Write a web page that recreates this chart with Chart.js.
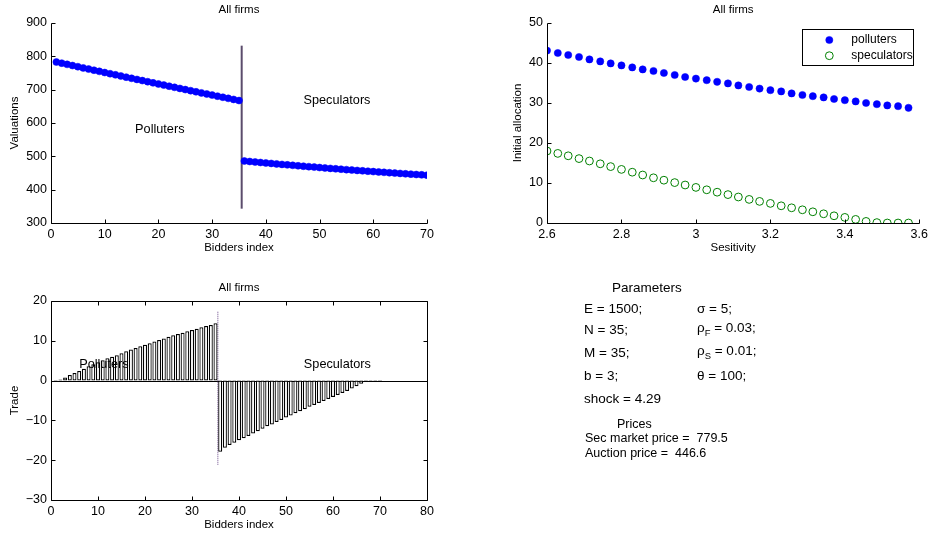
<!DOCTYPE html>
<html>
<head>
<meta charset="utf-8">
<script src="https://cdn.jsdelivr.net/npm/chart.js@4.4.0/dist/chart.umd.min.js"></script>
<style>
  body { margin: 0; background: #fff; font-family: "Liberation Sans", Arial, sans-serif; }
  .box { position: absolute; }
  #params { position: absolute; left: 0; top: 0; width: 932px; height: 535px; color: #000; }
  #params div { position: absolute; white-space: pre; line-height: 1; }
  #params .p { font-size: 13.5px; }
  #params .q { font-size: 12.5px; }
  #params sub { font-size: 0.7em; vertical-align: -0.45em; line-height: 0; }
</style>
</head>
<body>
<div class="box" style="left:0;top:0;width:460px;height:260px"><canvas id="c1"></canvas></div>
<div class="box" style="left:490px;top:0;width:442px;height:260px"><canvas id="c2"></canvas></div>
<div class="box" style="left:0;top:270px;width:460px;height:265px"><canvas id="c3"></canvas></div>

<div id="params">
  <div class="p" style="left:612px;top:281px">Parameters</div>
  <div class="p" style="left:584px;top:302px">E = 1500;</div>
  <div class="p" style="left:697px;top:302px">σ = 5;</div>
  <div class="p" style="left:584px;top:323px">N = 35;</div>
  <div class="p" style="left:697px;top:321px">ρ<sub>F</sub> = 0.03;</div>
  <div class="p" style="left:584px;top:346px">M = 35;</div>
  <div class="p" style="left:697px;top:344px">ρ<sub>S</sub> = 0.01;</div>
  <div class="p" style="left:584px;top:369px">b = 3;</div>
  <div class="p" style="left:697px;top:369px">θ = 100;</div>
  <div class="p" style="left:584px;top:392px">shock = 4.29</div>
  <div class="q" style="left:617px;top:418px">Prices</div>
  <div class="q" style="left:585px;top:432px">Sec market price =  779.5</div>
  <div class="q" style="left:585px;top:447px">Auction price =  446.6</div>
</div>

<script>
// bidder index (1..35 polluters, 36..70 speculators)
const bidders = [1, 2, 3, 4, 5, 6, 7, 8, 9, 10, 11, 12, 13, 14, 15, 16, 17, 18, 19, 20,
  21, 22, 23, 24, 25, 26, 27, 28, 29, 30, 31, 32, 33, 34, 35, 36, 37, 38, 39, 40,
  41, 42, 43, 44, 45, 46, 47, 48, 49, 50, 51, 52, 53, 54, 55, 56, 57, 58, 59, 60,
  61, 62, 63, 64, 65, 66, 67, 68, 69, 70];

const valPolluters = [783.0, 779.5, 775.9, 772.4, 768.9, 765.3, 761.8, 758.3, 754.9, 751.4,
  747.9, 744.5, 741.0, 737.6, 734.1, 730.7, 727.3, 723.9, 720.5, 717.1,
  713.7, 710.4, 707.0, 703.7, 700.3, 697.0, 693.7, 690.3, 687.0, 683.7,
  680.5, 677.2, 673.9, 670.7, 667.4];
const valSpeculators = [486.0, 484.5, 483.0, 481.5, 480.1, 478.7, 477.2, 475.8, 474.4, 473.0,
  471.7, 470.3, 469.0, 467.7, 466.4, 465.1, 463.8, 462.6, 461.3, 460.1,
  458.9, 457.7, 456.5, 455.3, 454.2, 453.1, 451.9, 450.8, 449.7, 448.7,
  447.6, 446.6, 445.5, 444.5, 443.5];

const sensitivity = [2.600, 2.629, 2.657, 2.686, 2.714, 2.743, 2.771, 2.800, 2.829, 2.857,
  2.886, 2.914, 2.943, 2.971, 3.000, 3.029, 3.057, 3.086, 3.114, 3.143,
  3.171, 3.200, 3.229, 3.257, 3.286, 3.314, 3.343, 3.371, 3.400, 3.429,
  3.457, 3.486, 3.514, 3.543, 3.571];
const allocPolluters = [43.1, 42.5, 42.0, 41.5, 40.9, 40.4, 39.9, 39.4, 38.9, 38.4,
  38.0, 37.5, 37.0, 36.5, 36.1, 35.7, 35.3, 34.9, 34.4, 34.0,
  33.6, 33.2, 32.9, 32.4, 32.0, 31.7, 31.4, 31.0, 30.7, 30.4,
  30.0, 29.7, 29.4, 29.2, 28.8];
const allocSpeculators = [18.0, 17.4, 16.8, 16.1, 15.5, 14.8, 14.1, 13.4, 12.7, 12.0,
  11.3, 10.7, 10.1, 9.5, 8.9, 8.3, 7.7, 7.1, 6.5, 5.9,
  5.4, 4.9, 4.3, 3.8, 3.3, 2.8, 2.3, 1.8, 1.4, 0.9,
  0.4, 0.1, 0, 0, 0];

const trade = [-0.3, 0.3, 0.8, 1.4, 1.9, 2.4, 3.0, 3.6, 4.1, 4.6,
  5.1, 5.6, 6.0, 6.4, 6.9, 7.4, 7.8, 8.2, 8.6, 9.0,
  9.4, 9.8, 10.2, 10.6, 11.0, 11.4, 11.7, 12.0, 12.4, 12.7,
  13.0, 13.4, 13.7, 14.0, 14.4,
  -17.9, -16.9, -16.2, -15.6, -15.0, -14.5, -13.9, -13.3, -12.7, -12.1,
  -11.5, -11.0, -10.4, -9.9, -9.3, -8.8, -8.2, -7.7, -7.2, -6.6,
  -6.1, -5.6, -5.1, -4.6, -4.1, -3.6, -3.1, -2.6, -2.0, -1.4,
  -0.8, -0.3, -0.15, -0.1, -0.1];

const splitX = 35.5;
const splitValY = [343, 832];
const splitTradeY = [17.3, -21.4];

const FONT = "'Liberation Sans', Arial, Helvetica, sans-serif";
Chart.defaults.font.family = FONT;
Chart.defaults.color = '#000';

function px(v) { return Math.round(v) + 0.5; }
function pts(xs, ys) { return xs.map((x, i) => ({ x: x, y: ys[i] })); }

// matlab look: axis lines with inward ticks, labels and text notes
const matlabAxes = {
  id: 'matlabAxes',
  beforeDatasetsDraw(chart, args, o) {
    if (!o.zeroLine) return;
    const { ctx, chartArea: a, scales: { y } } = chart;
    const yy = px(y.getPixelForValue(0));
    ctx.save();
    ctx.strokeStyle = '#000';
    ctx.lineWidth = 1;
    ctx.beginPath();
    ctx.moveTo(a.left, yy);
    ctx.lineTo(a.right, yy);
    ctx.stroke();
    ctx.restore();
  },
  afterDatasetsDraw(chart, args, o) {
    const { ctx, chartArea: a, scales: { x, y } } = chart;
    const L = px(a.left), R = px(a.right), T = px(a.top), B = px(a.bottom);
    ctx.save();
    ctx.strokeStyle = '#000';
    ctx.lineWidth = 1;
    ctx.beginPath();
    ctx.moveTo(L, T);
    ctx.lineTo(L, B);
    ctx.lineTo(R, B);
    if (o.box) { ctx.lineTo(R, T); ctx.lineTo(L, T); }
    x.ticks.forEach(t => {
      const p = px(x.getPixelForValue(t.value));
      ctx.moveTo(p, B); ctx.lineTo(p, B - 4);
      if (o.box) { ctx.moveTo(p, T); ctx.lineTo(p, T + 4); }
    });
    y.ticks.forEach(t => {
      const p = px(y.getPixelForValue(t.value));
      ctx.moveTo(L, p); ctx.lineTo(L + 4, p);
      if (o.box) { ctx.moveTo(R, p); ctx.lineTo(R - 4, p); }
    });
    ctx.stroke();

    ctx.fillStyle = '#000';
    ctx.textAlign = 'center';
    ctx.textBaseline = 'middle';
    ctx.font = '11.5px ' + FONT;
    const cx = (a.left + a.right) / 2;
    ctx.fillText(o.title, cx, a.top - o.titleDy);
    ctx.fillText(o.xlabel, cx, a.bottom + o.xlabelDy);
    ctx.save();
    ctx.translate(a.left - o.ylabelDx, (a.top + a.bottom) / 2);
    ctx.rotate(-Math.PI / 2);
    ctx.fillText(o.ylabel, 0, 0);
    ctx.restore();

    ctx.font = '12.7px ' + FONT;
    ctx.textAlign = 'left';
    (o.notes || []).forEach(n => {
      ctx.fillText(n.text, x.getPixelForValue(n.x), y.getPixelForValue(n.y));
    });
    ctx.restore();
  }
};

// boxed legend in the top right corner
const boxLegend = {
  id: 'boxLegend',
  afterDatasetsDraw(chart) {
    const { ctx, chartArea: a } = chart;
    const left = a.right - 117, top = a.top + 6, w = 111, h = 36;
    ctx.save();
    ctx.fillStyle = '#fff';
    ctx.fillRect(left, top, w, h);
    ctx.strokeStyle = '#000';
    ctx.lineWidth = 1;
    ctx.strokeRect(px(left), px(top), w, h);
    ctx.font = '12px ' + FONT;
    ctx.textAlign = 'left';
    ctx.textBaseline = 'middle';
    chart.data.datasets.forEach((ds, i) => {
      const cy = top + 11 + i * 15.7;
      ctx.beginPath();
      ctx.arc(left + 27, cy, ds.pointRadius, 0, Math.PI * 2);
      ctx.fillStyle = ds.backgroundColor;
      ctx.fill();
      ctx.lineWidth = ds.borderWidth;
      ctx.strokeStyle = ds.borderColor;
      ctx.stroke();
      ctx.fillStyle = '#000';
      ctx.fillText(ds.label, left + 49, cy);
    });
    ctx.restore();
  }
};

function axis(min, max, step, size) {
  return {
    type: 'linear', min: min, max: max, offset: false,
    grid: { display: false, drawTicks: false, offset: false },
    border: { display: false },
    ticks: {
      stepSize: step, color: '#000', padding: 4, maxRotation: 0,
      font: { size: 12.5, family: FONT },
      callback: v => String(+v.toFixed(1)).replace('-', '\u2212')
    },
    afterFit: s => {
      if (s.isHorizontal()) s.height = size; else s.width = size;
    }
  };
}

const common = {
  responsive: true,
  maintainAspectRatio: false,
  animation: false,
  events: []
};

new Chart(document.getElementById('c1'), {
  type: 'scatter',
  data: {
    datasets: [
      { label: 'Polluters', data: pts(bidders.slice(0, 35), valPolluters),
        pointRadius: 3.5, backgroundColor: '#0000ff', borderColor: '#0000ff', borderWidth: 0.5 },
      { label: 'Speculators', data: pts(bidders.slice(35), valSpeculators),
        pointRadius: 3.5, backgroundColor: '#0000ff', borderColor: '#0000ff', borderWidth: 0.5 },
      { type: 'line', data: pts([splitX, splitX], splitValY), showLine: true,
        borderColor: '#5b4c6c', borderWidth: 2, pointRadius: 0 }
    ]
  },
  options: Object.assign({}, common, {
    layout: { padding: { left: 0, top: 23, right: 33, bottom: 0 } },
    scales: { x: axis(0, 70, 10, 37), y: axis(300, 900, 100, 51) },
    plugins: {
      legend: { display: false }, tooltip: { enabled: false },
      matlabAxes: {
        title: 'All firms', titleDy: 13, xlabel: 'Bidders index', xlabelDy: 24.6,
        ylabel: 'Valuations', ylabelDx: 36,
        notes: [{ x: 15.66, y: 581, text: 'Polluters' }, { x: 47.0, y: 667, text: 'Speculators' }]
      }
    }
  }),
  plugins: [matlabAxes]
});

new Chart(document.getElementById('c2'), {
  type: 'scatter',
  data: {
    datasets: [
      { label: 'polluters', data: pts(sensitivity, allocPolluters),
        pointRadius: 3.6, backgroundColor: '#0000ff', borderColor: '#0000ff', borderWidth: 0.5 },
      { label: 'speculators', data: pts(sensitivity, allocSpeculators),
        pointRadius: 3.9, backgroundColor: 'rgba(0,0,0,0)', borderColor: '#008000', borderWidth: 1 }
    ]
  },
  options: Object.assign({}, common, {
    layout: { padding: { left: 0, top: 23, right: 9, bottom: 0 } },
    scales: { x: axis(2.6, 3.6, 0.2, 37), y: axis(0, 50, 10, 57) },
    plugins: {
      legend: { display: false }, tooltip: { enabled: false },
      matlabAxes: {
        title: 'All firms', titleDy: 13, xlabel: 'Sesitivity', xlabelDy: 24.6,
        ylabel: 'Initial allocation', ylabelDx: 29
      }
    }
  }),
  plugins: [matlabAxes, boxLegend]
});

new Chart(document.getElementById('c3'), {
  type: 'bar',
  data: {
    datasets: [
      { label: 'Trade', data: pts(bidders, trade),
        backgroundColor: '#ffffff', borderColor: '#000000', borderWidth: 1.25, borderSkipped: false,
        barPercentage: 0.85, categoryPercentage: 1 },
      { type: 'line', data: pts([splitX, splitX], splitTradeY),
        borderColor: '#6a4a8a', borderWidth: 1, borderDash: [1, 1], pointRadius: 0 }
    ]
  },
  options: Object.assign({}, common, {
    layout: { padding: { left: 0, top: 31, right: 33, bottom: 0 } },
    scales: { x: axis(0, 80, 10, 35), y: axis(-30, 20, 10, 51) },
    plugins: {
      legend: { display: false }, tooltip: { enabled: false },
      matlabAxes: {
        box: true, zeroLine: true,
        title: 'All firms', titleDy: 12.7, xlabel: 'Bidders index', xlabelDy: 25,
        ylabel: 'Trade', ylabelDx: 36,
        notes: [{ x: 6.0, y: 4.0, text: 'Polluters' }, { x: 53.8, y: 4.0, text: 'Speculators' }]
      }
    }
  }),
  plugins: [matlabAxes]
});
</script>
</body>
</html>
